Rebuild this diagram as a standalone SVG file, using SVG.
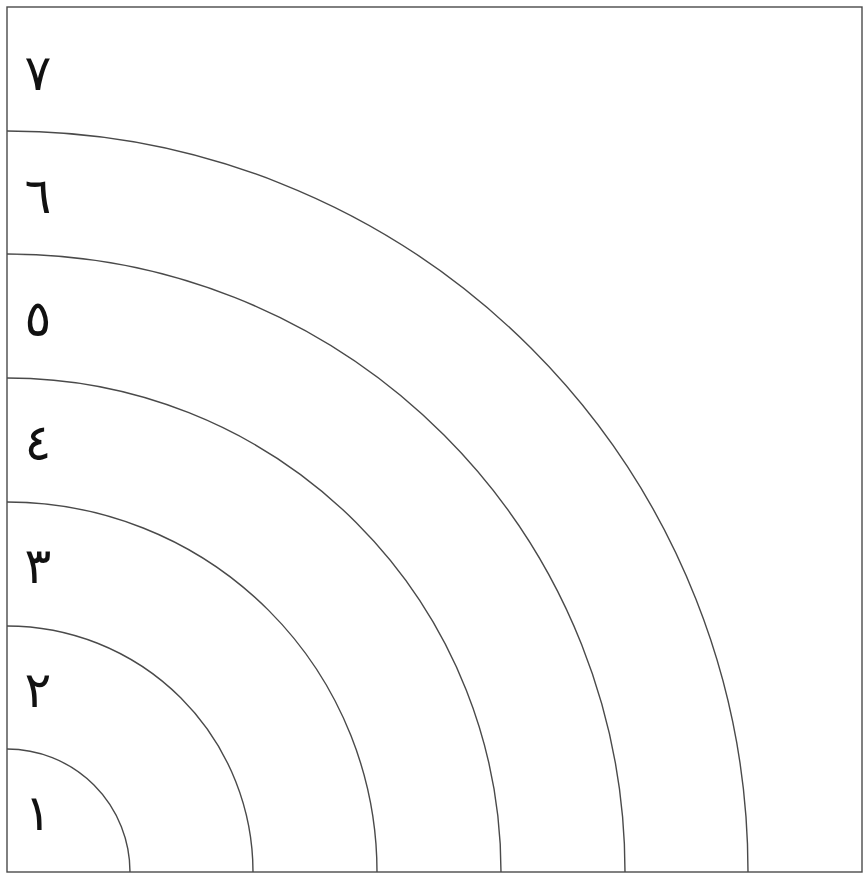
<svg xmlns="http://www.w3.org/2000/svg" width="866" height="876" viewBox="0 0 866 876">
<style>
.ln{fill:none;stroke:#4a4a4a;stroke-width:1.4}
.d{font-family:"DejaVu Sans",sans-serif;font-size:50px;fill:#111;text-anchor:middle}
</style>
<rect width="866" height="876" fill="#fff"/>
<g id="frame"><rect class="ln" x="7" y="7" width="855" height="865"/></g>
<g id="arcs">
<path class="ln" d="M7,749 A123,123 0 0 1 130,872"/>
<path class="ln" d="M7,626 A246,246 0 0 1 253,872"/>
<path class="ln" d="M7,502 A370,370 0 0 1 377,872"/>
<path class="ln" d="M7,378 A494,494 0 0 1 501,872"/>
<path class="ln" d="M7,254 A618,618 0 0 1 625,872"/>
<path class="ln" d="M7,131 A741,741 0 0 1 748,872"/>
</g>
<g id="labels">
<text class="d" x="38" y="830">١</text>
<text class="d" x="38" y="707">٢</text>
<text class="d" x="38" y="583">٣</text>
<text class="d" x="38" y="460">٤</text>
<text class="d" x="38" y="336">٥</text>
<text class="d" x="38" y="213">٦</text>
<text class="d" x="38" y="90">٧</text>
</g>
</svg>
